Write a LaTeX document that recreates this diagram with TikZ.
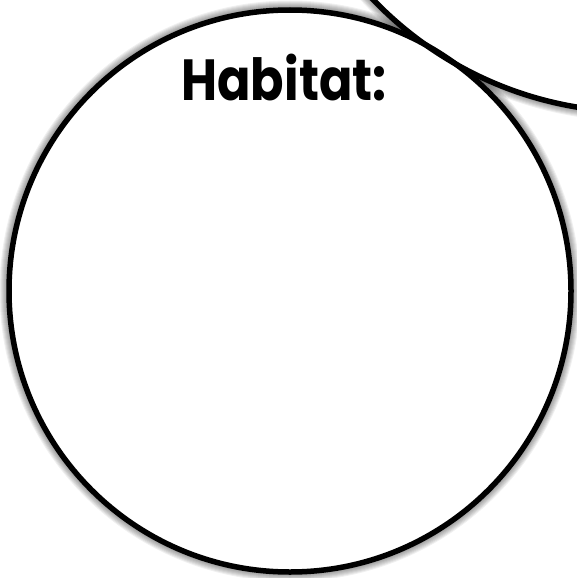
\documentclass[tikz,border=0pt]{standalone}
\usepackage{fontspec}
\newfontfamily\titlefont{Poppins}[UprightFont=* Bold]
\begin{document}
\begin{tikzpicture}[x=1pt,y=-1pt,
  outline/.style={draw=black,line width=5.5pt},
  glowring/.style={draw=black,opacity=0.06}]
\useasboundingbox (0,0) rectangle (577,578);
\clip (0,0) rectangle (577,578);
\fill[white] (0,0) rectangle (577,578);
\coordinate (c1) at (290,291);
\coordinate (c2) at (637,-254);
% glow
\foreach \w in {7,9,11,13,15,17,19} {
  \draw[glowring,line width=\w pt] (c1) circle[radius=281];
  \draw[glowring,line width=\w pt] (c2) circle[radius=366];
}
\fill[white] (c1) circle[radius=281];
\fill[white] (c2) circle[radius=366];
\draw[outline] (c1) circle[radius=281];
\draw[outline] (c2) circle[radius=366];
\node[font=\titlefont\fontsize{58}{60}\selectfont,inner sep=0pt,anchor=base,xscale=0.85] (title) at (284,100) {Habitat:};
\end{tikzpicture}
\end{document}
